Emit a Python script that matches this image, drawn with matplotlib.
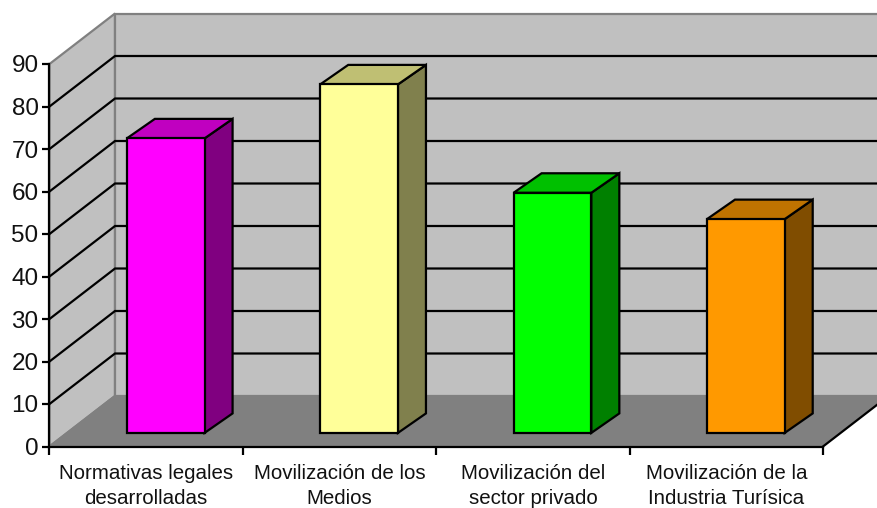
import matplotlib
matplotlib.use("Agg")
import matplotlib.pyplot as plt
from matplotlib.patches import Polygon

plt.rcParams["font.family"] = ["Liberation Sans", "DejaVu Sans"]

categories = [
    "Normativas legales\ndesarrolladas",
    "Movilización de los\nMedios",
    "Movilización del\nsector privado",
    "Movilización de la\nIndustria Turísica",
]
values = [69.3, 82, 56.5, 50.3]
y_ticks = [0, 10, 20, 30, 40, 50, 60, 70, 80, 90]

face_colors = ["#FF00FF", "#FFFF99", "#00FF00", "#FF9900"]
top_colors = ["#C000C0", "#BFBF73", "#00C000", "#BF7300"]
side_colors = ["#800080", "#80804D", "#008000", "#804D00"]

W, H = 878, 508
X0, X1 = 49.5, 823.0   # front plane, pixels
Y0, Y90 = 446.5, 64.0

fig = plt.figure(figsize=(W / 100, H / 100), dpi=100, facecolor="white")
ax = fig.add_axes([X0 / W, (H - Y0) / H, (X1 - X0) / W, (Y0 - Y90) / H])
ax.set_xlim(0, 4)
ax.set_ylim(0, 90)
ax.patch.set_visible(False)

# pixels -> data units, for the oblique depth
ux = (X1 - X0) / 4
uy = (Y0 - Y90) / 90
wall_dx, wall_dy = 65.5 / ux, 50.5 / uy
bar_dx, bar_dy = 28 / ux, 19.5 / uy
bar_base = 3.2
bar_pad, bar_w = 0.4, 0.402
LW = 1.6


def poly(pts, fc, ec="black", lw=LW, z=2):
    ax.add_patch(Polygon(pts, closed=True, facecolor=fc, edgecolor=ec, linewidth=lw,
                         joinstyle="miter", clip_on=False, zorder=z))


# walls and floor
right = 4.5
poly([(0, 0), (wall_dx, wall_dy), (wall_dx, 90 + wall_dy), (0, 90)], "#C0C0C0", "#808080", z=1)
poly([(wall_dx, wall_dy), (right, wall_dy), (right, 90 + wall_dy), (wall_dx, 90 + wall_dy)],
     "#C0C0C0", "#808080", z=1)
poly([(0, 0), (4, 0), (4 + wall_dx, wall_dy), (wall_dx, wall_dy)], "#808080", "none", 0, z=1.2)
ax.plot([0, wall_dx], [0, wall_dy], color="#808080", lw=LW, clip_on=False, zorder=1.3)
ax.plot([4, 4 + wall_dx], [0, wall_dy], color="black", lw=LW, clip_on=False, zorder=1.3)

# gridlines (0 and 90 are the grey wall edges)
for v in y_ticks[1:-1]:
    ax.plot([0, wall_dx, right], [v, v + wall_dy, v + wall_dy], color="black", lw=LW,
            clip_on=False, zorder=1.5, solid_joinstyle="miter")

# bars
for i, v in enumerate(values):
    x0 = i + bar_pad
    x1 = x0 + bar_w
    y0 = bar_base
    y1 = bar_base + v
    poly([(x1, y0), (x1 + bar_dx, y0 + bar_dy), (x1 + bar_dx, y1 + bar_dy), (x1, y1)], side_colors[i])
    poly([(x0, y1), (x1, y1), (x1 + bar_dx, y1 + bar_dy), (x0 + bar_dx, y1 + bar_dy)], top_colors[i])
    poly([(x0, y0), (x1, y0), (x1, y1), (x0, y1)], face_colors[i])

for s in ("top", "right"):
    ax.spines[s].set_visible(False)
for s in ("left", "bottom"):
    ax.spines[s].set_linewidth(LW)

ax.set_yticks(y_ticks)
ax.set_xticks(range(5))
ax.set_xticklabels([])
ax.set_xticks([i + 0.5 for i in range(4)], minor=True)
ax.set_xticklabels(categories, minor=True, fontsize=14.8, color="#111111", linespacing=1.42)
ax.tick_params(axis="x", which="major", length=6, width=LW)
ax.tick_params(axis="x", which="minor", length=0, pad=12.5)
ax.tick_params(axis="y", length=5.4, width=LW, labelsize=17.5, pad=2.5, labelcolor="#111111")

fig.savefig("out.png", dpi=100)
plt.close(fig)
